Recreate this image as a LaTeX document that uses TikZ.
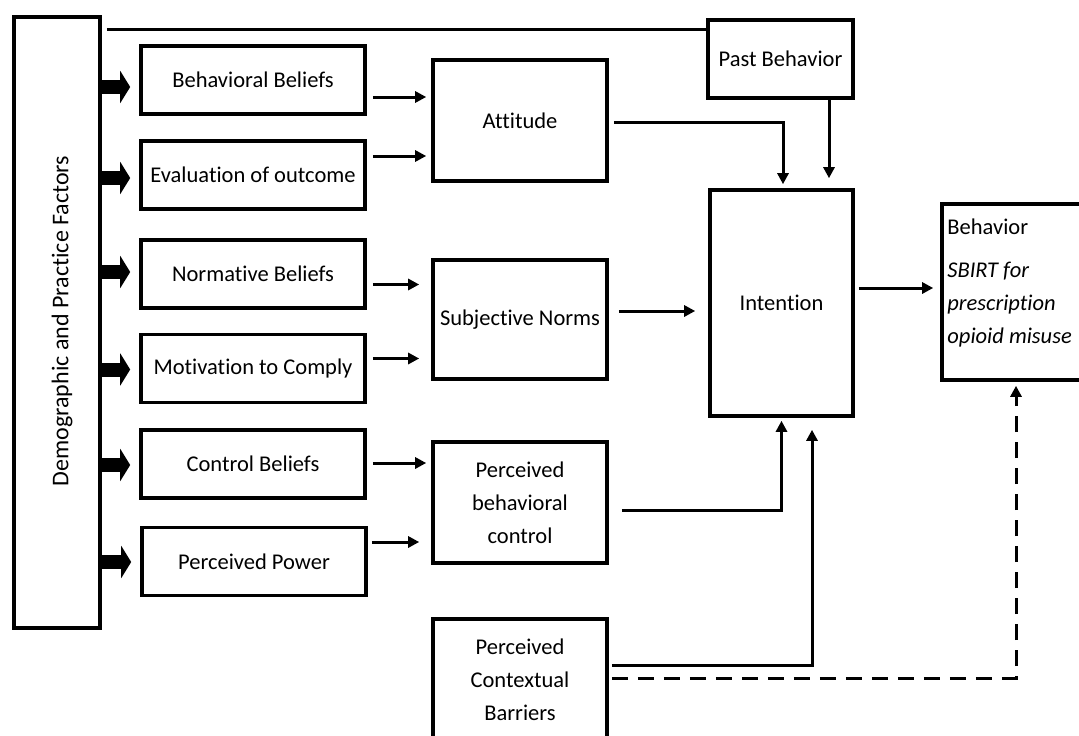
\documentclass[tikz,border=0pt]{standalone}
\usepackage{fontspec}
\setmainfont{Carlito}[Ligatures=NoCommon]
\usetikzlibrary{arrows.meta}
\begin{document}
\begin{tikzpicture}[x=1pt,y=-1pt,
  box/.style={draw, line width=3.6pt, inner sep=0pt, align=center,
    font=\fontsize{22.5}{33}\selectfont},
  lbl/.style={inner sep=0pt, font=\fontsize{22.5}{33}\selectfont},
  bigarrow/.style={line width=14pt, -{Triangle[length=10pt,width=32pt]}, shorten >=9pt},
  arr/.style={line width=3pt, -{Triangle[length=11pt,width=11pt]}},
  plain/.style={line width=3pt}]
\fill[white] (0,0) rectangle (1079,736);
\useasboundingbox (0,0) rectangle (1079,736);

% left factor box
\node[box, minimum width=86, minimum height=611] (demo) at (57,322.5) {};
\node[lbl, rotate=90, font=\fontsize{24}{33}\selectfont] (demotext) at (62,321) {Demographic and Practice Factors};

% belief boxes
\node[box, minimum width=224, minimum height=68] (bb) at (253,80) {Behavioral Beliefs};
\node[box, minimum width=224, minimum height=68] (eo) at (253,175) {Evaluation of outcome};
\node[box, minimum width=224, minimum height=68] (nb) at (253,274) {Normative Beliefs};
\node[box, minimum width=224, minimum height=68] (mc) at (253,368.5) {Motivation to Comply};
\node[box, minimum width=224, minimum height=68] (cb) at (253,464) {Control Beliefs};
\node[box, minimum width=224, minimum height=68] (pp) at (254,561.5) {Perceived Power};

% middle boxes
\node[box, minimum width=174, minimum height=121] (att) at (520,120.5) {Attitude};
\node[box, minimum width=174, minimum height=119] (sn) at (520,319.5) {Subjective Norms};
\node[box, minimum width=174, minimum height=121] (pbc) at (520,502.5) {Perceived\\behavioral\\control};
\node[box, minimum width=174, minimum height=121] (pcb) at (520,679.5) {Perceived\\Contextual\\Barriers};

% right boxes
\node[box, minimum width=145, minimum height=78] (pb) at (780.5,59) {Past Behavior};
\node[box, minimum width=143, minimum height=226] (int) at (781.5,303) {Intention};
\node[box, minimum width=150, minimum height=176] (beh) at (1017,292) {};
\node[lbl, anchor=north west, align=left] (behtext) at ([xshift=7pt,yshift=-16pt]beh.north west)
  {Behavior\\[10pt]\textit{SBIRT for}\\\textit{prescription}\\\textit{opioid misuse}};

% thick arrows
\draw[bigarrow] ([yshift=-7pt]bb.west -| demo.east) -- ([yshift=-7pt]bb.west);
\draw[bigarrow] ([yshift=-3pt]eo.west -| demo.east) -- ([yshift=-3pt]eo.west);
\draw[bigarrow] ([yshift=2pt]nb.west -| demo.east) -- ([yshift=2pt]nb.west);
\draw[bigarrow] ([yshift=-1pt]mc.west -| demo.east) -- ([yshift=-1pt]mc.west);
\draw[bigarrow] ([yshift=-1pt]cb.west -| demo.east) -- ([yshift=-1pt]cb.west);
\draw[bigarrow] ([yshift=-0.5pt]pp.west -| demo.east) -- ([yshift=-0.5pt]pp.west);

% top line
\coordinate (tl) at ([xshift=5pt,yshift=-14pt]demo.north east);
\draw[plain] (tl) -- (tl -| pb.west);

% belief -> construct arrows
\draw[arr, shorten <=6pt, shorten >=5pt] ([yshift=-17pt]bb.east) -- ([yshift=-17pt]bb.east -| att.west);
\draw[arr, shorten <=6pt, shorten >=5pt] ([yshift=19pt]eo.east) -- ([yshift=19pt]eo.east -| att.west);
\draw[arr, shorten <=6pt, shorten >=12pt] ([yshift=-10.5pt]nb.east) -- ([yshift=-10.5pt]nb.east -| sn.west);
\draw[arr, shorten <=6pt, shorten >=12pt] ([yshift=10pt]mc.east) -- ([yshift=10pt]mc.east -| sn.west);
\draw[arr, shorten <=6pt, shorten >=5pt] ([yshift=1pt]cb.east) -- ([yshift=1pt]cb.east -| pbc.west);
\draw[arr, shorten <=4pt, shorten >=12pt] ([yshift=19.5pt]pp.east) -- ([yshift=19.5pt]pp.east -| pbc.west);

% construct -> intention
\draw[arr, shorten <=5pt, shorten >=4pt] ([yshift=-1.5pt]att.east) -| ([xshift=1.5pt]int.north);
\draw[arr, shorten >=10pt] ([xshift=48.5pt]pb.south) -- ([xshift=48.5pt]pb.south |- int.north);
\draw[arr, shorten <=10pt, shorten >=13pt] ([yshift=8.5pt]sn.east) -- ([yshift=8.5pt]sn.east -| int.west);
\coordinate (bin) at ([yshift=4pt]beh.west);
\draw[arr, shorten <=4pt, shorten >=7pt] (int.east |- bin) -- (bin);
\draw[arr, shorten <=13pt, shorten >=3pt] ([yshift=-7.5pt]pbc.east) -| (int.south);
\draw[arr, shorten <=3pt, shorten >=12pt] ([yshift=14.5pt]pcb.east) -| ([xshift=30.5pt]int.south);
\draw[arr, dash pattern=on 16pt off 10pt, shorten <=3pt, shorten >=4pt] ([yshift=1.5pt]pcb.east) -| ([xshift=-1pt]beh.south);
\end{tikzpicture}
\end{document}
